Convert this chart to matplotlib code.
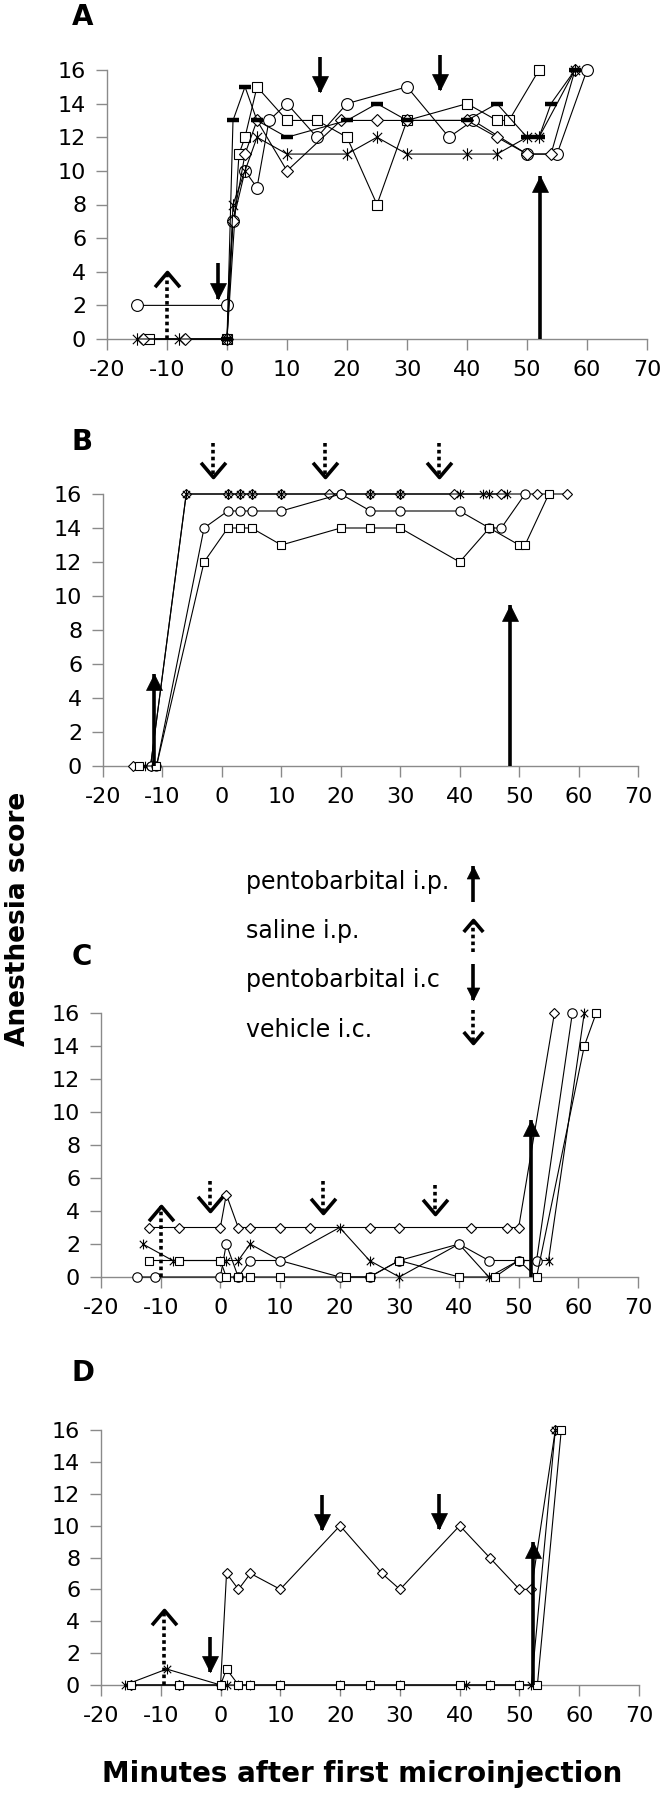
import matplotlib
matplotlib.use("Agg")
import matplotlib.pyplot as plt
from matplotlib.path import Path
import numpy as np

plt.rcParams['font.family'] = ['DejaVu Sans']

# ---------------- data ----------------
# Panel A
a_circle_x = [-15, 0, 1, 3, 5, 7, 10, 15, 20, 30, 37, 41, 50, 55, 60]
a_circle_y = [2, 2, 7, 10, 9, 13, 14, 12, 14, 15, 12, 13, 11, 11, 16]
a_square_x = [-13, 0, 2, 3, 5, 10, 15, 20, 25, 30, 40, 45, 47, 52]
a_square_y = [0, 0, 11, 12, 15, 13, 13, 12, 8, 13, 14, 13, 13, 16]
a_diamond_x = [-14, -7, 0, 1, 3, 5, 10, 19, 25, 30, 40, 45, 50, 54, 58]
a_diamond_y = [0, 0, 0, 7, 11, 13, 10, 13, 13, 13, 13, 12, 11, 11, 16]
a_star_x = [-15, -8, 0, 1, 3, 5, 10, 20, 25, 30, 40, 45, 50, 52, 58]
a_star_y = [0, 0, 0, 8, 10, 12, 11, 11, 12, 11, 11, 11, 12, 12, 16]
a_dash_x = [0, 1, 3, 5, 10, 20, 25, 30, 40, 45, 50, 52, 54, 58]
a_dash_y = [0, 13, 15, 13, 12, 13, 14, 13, 13, 14, 12, 12, 14, 16]

# Panel B
b_diamond_x = [-15, -12, -6, 1, 3, 5, 10, 18, 20, 25, 30, 39, 47, 53, 58]
b_diamond_y = [0, 0, 16, 16, 16, 16, 16, 16, 16, 16, 16, 16, 16, 16, 16]
b_star_x = [-13, -12, -6, 1, 3, 5, 10, 20, 25, 30, 40, 44, 45, 48]
b_star_y = [0, 0, 16, 16, 16, 16, 16, 16, 16, 16, 16, 16, 16, 16]
b_circle_x = [-12, -11, -3, 1, 3, 5, 10, 20, 25, 30, 40, 45, 47, 51]
b_circle_y = [0, 0, 14, 15, 15, 15, 15, 16, 15, 15, 15, 14, 14, 16]
b_square_x = [-14, -11, -3, 1, 3, 5, 10, 20, 25, 30, 40, 45, 50, 51, 55]
b_square_y = [0, 0, 12, 14, 14, 14, 13, 14, 14, 14, 12, 14, 13, 13, 16]

# Panel C
c_diamond_x = [-12, -7, 0, 1, 3, 5, 10, 15, 25, 30, 42, 48, 50, 56]
c_diamond_y = [3, 3, 3, 5, 3, 3, 3, 3, 3, 3, 3, 3, 3, 16]
c_star_x = [-13, -8, 0, 1, 3, 5, 10, 20, 25, 30, 40, 45, 50, 55, 61]
c_star_y = [2, 1, 1, 1, 1, 2, 1, 3, 1, 0, 2, 0, 1, 1, 16]
c_circle_x = [-14, -11, 0, 1, 3, 5, 10, 20, 25, 30, 40, 45, 50, 53, 59]
c_circle_y = [0, 0, 0, 2, 0, 1, 1, 0, 0, 1, 2, 1, 1, 1, 16]
c_square_x = [-12, -7, 0, 1, 3, 5, 10, 21, 25, 30, 40, 46, 50, 53, 61, 63]
c_square_y = [1, 1, 1, 0, 0, 0, 0, 0, 0, 1, 0, 0, 1, 0, 14, 16]

# Panel D
d_diamond_x = [-15, -7, 0, 1, 3, 5, 10, 20, 27, 30, 40, 45, 50, 52, 56]
d_diamond_y = [0, 0, 0, 7, 6, 7, 6, 10, 7, 6, 10, 8, 6, 6, 16]
d_star_x = [-16, -9, 0, 1, 3, 5, 10, 20, 25, 30, 41, 45, 50, 52, 56]
d_star_y = [0, 1, 0, 0, 0, 0, 0, 0, 0, 0, 0, 0, 0, 0, 16]
d_square_x = [-15, -7, 0, 1, 3, 5, 10, 20, 25, 30, 40, 45, 50, 53, 57]
d_square_y = [0, 0, 0, 1, 0, 0, 0, 0, 0, 0, 0, 0, 0, 0, 16]

# injection arrows: (x, base, tip)
a_ip_pento = [(52.2, 0, 9.7)]
a_ip_saline = [(-10, 0, 4.0)]
a_ic_pento = [(-1.5, 4.5, 2.4), (15.5, 16.8, 14.7), (35.5, 16.9, 14.8)]
a_ic_vehicle = []
b_ip_pento = [(-11.5, 0, 5.4), (48.4, 0, 9.5)]
b_ip_saline = []
b_ic_pento = []
b_ic_vehicle = [(-1.5, 19.0, 17.0), (17.4, 19.0, 17.0), (36.5, 19.0, 17.0)]
c_ip_pento = [(52.1, 0, 9.5)]
c_ip_saline = [(-10, 0, 4.3)]
c_ic_pento = []
c_ic_vehicle = [(-1.7, 5.8, 4.0), (17.2, 5.8, 3.9), (36.0, 5.6, 3.8)]
d_ip_pento = [(52.3, 0, 9.0)]
d_ip_saline = [(-9.5, 0, 4.7)]
d_ic_pento = [(-1.8, 3.0, 0.8), (17.0, 11.9, 9.7), (36.5, 12.0, 9.8)]
d_ic_vehicle = []

x_ticks = [-20, -10, 0, 10, 20, 30, 40, 50, 60, 70]
y_ticks = [0, 2, 4, 6, 8, 10, 12, 14, 16]
panel_labels = ["A", "B", "C", "D"]
legend_labels = ["pentobarbital i.p.", "saline i.p.", "pentobarbital i.c", "vehicle i.c."]
legend_kinds = ["solid", "dotted", "solid", "dotted"]
x_title = "Minutes after first microinjection"
y_title = "Anesthesia score"

# ---------------- styles ----------------
W, H = 660, 1800
fig = plt.figure(figsize=(W / 100, H / 100), dpi=100)

star_path = Path([(0, -1), (0, 1), (-0.75, -0.75), (0.75, 0.75), (-0.75, 0.75), (0.75, -0.75)],
                 [Path.MOVETO, Path.LINETO, Path.MOVETO, Path.LINETO, Path.MOVETO, Path.LINETO])
tri_up = Path([(-1, -2), (0, 0), (1, -2), (-1, -2)],
              [Path.MOVETO, Path.LINETO, Path.LINETO, Path.CLOSEPOLY])
tri_dn = Path([(-1, 2), (0, 0), (1, 2), (-1, 2)],
              [Path.MOVETO, Path.LINETO, Path.LINETO, Path.CLOSEPOLY])
chev_up = Path([(-1, -1.18), (0, 0), (1, -1.18)], [Path.MOVETO, Path.LINETO, Path.LINETO])
chev_dn = Path([(-1, 1.18), (0, 0), (1, 1.18)], [Path.MOVETO, Path.LINETO, Path.LINETO])

GREY = '#8a8a8a'


def px_axes(left, right, top, bottom):
    return fig.add_axes([left / W, 1 - bottom / H, (right - left) / W, (bottom - top) / H])


def style_axes(ax):
    ax.set_xlim(-20, 70)
    ax.set_ylim(0, 16)
    ax.set_xticks(x_ticks)
    ax.set_yticks(y_ticks)
    ax.set_xticklabels([str(v) for v in x_ticks])
    ax.set_yticklabels([str(v) for v in y_ticks])
    for s in ['top', 'right']:
        ax.spines[s].set_visible(False)
    for s in ['left', 'bottom']:
        ax.spines[s].set_color(GREY)
        ax.spines[s].set_linewidth(1.0)
    ax.tick_params(axis='x', direction='out', length=8, width=1, color=GREY, pad=7, labelsize=16)
    ax.tick_params(axis='y', direction='out', length=8, width=1, color=GREY, pad=7, labelsize=16)
    ax.patch.set_alpha(0)


def series(ax, x, y, kind, ms):
    kw = dict(color='black', lw=0.8, clip_on=False, zorder=3, mec='black', mew=0.8)
    if kind == 'circle':
        ax.plot(x, y, marker='o', ms=ms, mfc='white', **kw)
    elif kind == 'square':
        ax.plot(x, y, marker='s', ms=ms * 0.9, mfc='white', **kw)
    elif kind == 'diamond':
        ax.plot(x, y, marker='D', ms=ms * 0.72, mfc='white', **kw)
    elif kind == 'star':
        ax.plot(x, y, marker=star_path, ms=ms * 1.05, mfc='none', **kw)
    elif kind == 'dash':
        kw['mew'] = 3.2
        ax.plot(x, y, marker='_', ms=ms * 1.1, **kw)


def arrows(ax, items, kind, hs=23):
    for (x, base, tip) in items:
        up = tip > base
        if kind == 'solid':
            ax.plot([x, x], [base, tip], color='black', lw=2.6, solid_capstyle='butt',
                    clip_on=False, zorder=5)
            ax.plot([x], [tip], marker=tri_up if up else tri_dn, ms=hs, color='black',
                    mec='black', mew=0.5, clip_on=False, zorder=6)
        else:
            ax.plot([x, x], [base, tip], color='black', lw=2.6, ls=(0, (1.0, 0.9)),
                    dash_capstyle='butt', clip_on=False, zorder=5)
            ax.plot([x], [tip], marker=chev_up if up else chev_dn, ms=hs * 0.92,
                    mfc='none', mec='black', mew=2.6, clip_on=False, zorder=6)


panels = [
    dict(box=(107, 647, 70, 339), label_y=17, ms=8.5,
         ser=[(a_circle_x, a_circle_y, 'circle'), (a_square_x, a_square_y, 'square'),
              (a_diamond_x, a_diamond_y, 'diamond'), (a_star_x, a_star_y, 'star'),
              (a_dash_x, a_dash_y, 'dash')],
         arr=(a_ip_pento, a_ip_saline, a_ic_pento, a_ic_vehicle)),
    dict(box=(103, 638, 494, 766), label_y=442, ms=6.6,
         ser=[(b_diamond_x, b_diamond_y, 'diamond'), (b_star_x, b_star_y, 'star'),
              (b_circle_x, b_circle_y, 'circle'), (b_square_x, b_square_y, 'square')],
         arr=(b_ip_pento, b_ip_saline, b_ic_pento, b_ic_vehicle)),
    dict(box=(101, 638, 1013, 1277), label_y=957, ms=6.8,
         ser=[(c_diamond_x, c_diamond_y, 'diamond'), (c_star_x, c_star_y, 'star'),
              (c_circle_x, c_circle_y, 'circle'), (c_square_x, c_square_y, 'square')],
         arr=(c_ip_pento, c_ip_saline, c_ic_pento, c_ic_vehicle)),
    dict(box=(101, 639, 1430, 1685), label_y=1373, ms=6.8,
         ser=[(d_diamond_x, d_diamond_y, 'diamond'), (d_star_x, d_star_y, 'star'),
              (d_square_x, d_square_y, 'square')],
         arr=(d_ip_pento, d_ip_saline, d_ic_pento, d_ic_vehicle)),
]

for i, p in enumerate(panels):
    l, r, t, b = p['box']
    ax = px_axes(l, r, t, b)
    style_axes(ax)
    for (x, y, kind) in p['ser']:
        series(ax, x, y, kind, p['ms'])
    ip_p, ip_s, ic_p, ic_v = p['arr']
    arrows(ax, ip_p, 'solid')
    arrows(ax, ip_s, 'dotted')
    arrows(ax, ic_p, 'solid')
    arrows(ax, ic_v, 'dotted')
    fig.text(72 / W, 1 - p['label_y'] / H, panel_labels[i], fontsize=20, fontweight='bold',
             ha='left', va='center')

# legend block (pixel overlay, y measured upward from the bottom)
lay = fig.add_axes([0, 0, 1, 1])
lay.set_xlim(0, W)
lay.set_ylim(0, H)
lay.axis('off')
leg_y = [882, 931, 980, 1030]
leg_arrow_y = [(902, 866), (952, 920), (964, 1000), (1010, 1043)]
for txt, yy in zip(legend_labels, leg_y):
    lay.text(246, H - yy, txt, fontsize=17, ha='left', va='center')
for (y0, y1), kind in zip(leg_arrow_y, legend_kinds):
    arrows(lay, [(473, H - y0, H - y1)], kind, hs=18)

fig.text(18 / W, 1 - 919 / H, y_title, rotation=90, fontsize=19, fontweight='bold',
         ha='center', va='center')
fig.text(362 / W, 1 - 1774 / H, x_title, fontsize=20, fontweight='bold',
         ha='center', va='center')

fig.savefig('out.png', dpi=100)
